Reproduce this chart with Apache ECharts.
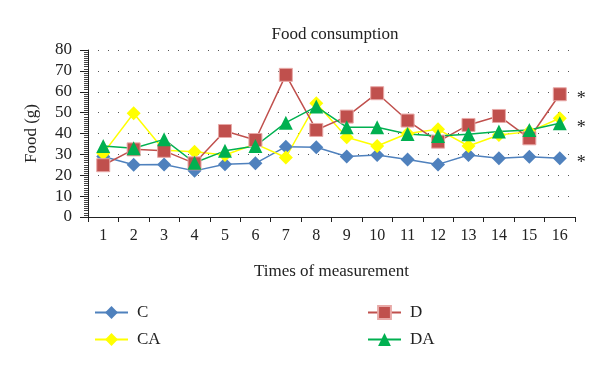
<!DOCTYPE html>
<html>
<head>
<meta charset="utf-8">
<script src="https://cdn.jsdelivr.net/npm/echarts@6/dist/echarts.min.js"></script>
<style>
  html, body { margin: 0; padding: 0; background: #fff; }
  #chart { width: 600px; height: 370px; }
</style>
</head>
<body>
<div id="chart"></div>
<script>
// 测量次数
const times = ['1', '2', '3', '4', '5', '6', '7', '8', '9', '10', '11', '12', '13', '14', '15', '16']
// 各组进食量 (g)
const cData = [29, 25, 25.2, 22.1, 25.3, 25.7, 33.7, 33.4, 29, 29.7, 27.6, 25.2, 29.7, 28.1, 28.9, 28.1]
const caData = [30.5, 49.7, 32, 31.3, 29.7, 35, 28.5, 54.5, 38.2, 34, 40, 42, 34, 39.3, 40.9, 47.3]
const dData = [24.8, 32.4, 31.7, 25.7, 41.2, 36.9, 68.1, 41.7, 48.1, 59.3, 46.2, 36.1, 44.1, 48.4, 37.7, 58.8]
const daData = [34, 32.9, 37.2, 26, 31.7, 34, 45.2, 52.9, 43, 43, 39.8, 38.8, 39.6, 40.9, 41.7, 44.9]
// 最后一个点标注显著性的组
const starred = ['C', 'D', 'DA']

const font = 'Liberation Serif'
const chart = echarts.init(document.getElementById('chart'))

const makeSeries = (name, data, color, symbol, size, border) => ({
  name,
  type: 'line',
  data: data.map((v, i) => {
    if (i === data.length - 1 && starred.includes(name)) {
      return {
        value: v,
        label: {
          show: true,
          position: 'right',
          distance: 10,
          offset: [0, 5],
          formatter: '*',
          fontFamily: font,
          fontSize: 18,
          color: '#222'
        }
      }
    }
    return v
  }),
  symbol,
  symbolSize: size,
  showAllSymbol: true,
  lineStyle: { color, width: 1.5 },
  itemStyle: { color, borderColor: border || color, borderWidth: border ? 1 : 0 },
  emphasis: { disabled: true },
  animation: false
})

const legendBase = {
  orient: 'vertical',
  top: 299,
  itemWidth: 33,
  itemHeight: 16,
  itemGap: 10,
  textStyle: { fontFamily: font, fontSize: 17, color: '#222', padding: [0, 0, 0, 4] }
}

const option = {
  title: {
    text: 'Food consumption',
    left: 330,
    textAlign: 'center',
    top: 21,
    textStyle: { fontFamily: font, fontSize: 17, fontWeight: 'normal', color: '#222' }
  },
  legend: [
    { ...legendBase, data: ['C', 'CA'], left: 89 },
    { ...legendBase, data: ['D', 'DA'], left: 362 }
  ],
  grid: { left: 88, right: 25, top: 50, bottom: 153 },
  xAxis: {
    type: 'category',
    data: times,
    boundaryGap: true,
    name: 'Times of measurement',
    nameLocation: 'middle',
    nameGap: 46,
    nameTextStyle: { fontFamily: font, fontSize: 17, color: '#222' },
    axisLine: { lineStyle: { color: '#222', width: 1 } },
    axisTick: { show: true, length: 5, lineStyle: { color: '#222' } },
    axisLabel: { fontFamily: font, fontSize: 16, color: '#222', margin: 11 }
  },
  yAxis: {
    type: 'value',
    min: 0,
    max: 80,
    interval: 10,
    name: 'Food (g)',
    nameLocation: 'middle',
    nameGap: 48,
    nameTextStyle: { fontFamily: font, fontSize: 17, color: '#222' },
    axisLine: { show: true, lineStyle: { color: '#222', width: 1 } },
    axisTick: { show: true, length: 8, lineStyle: { color: '#222' } },
    minorTick: { show: true, splitNumber: 10, length: 4, lineStyle: { color: '#444' } },
    axisLabel: { fontFamily: font, fontSize: 17, color: '#222', margin: 16 },
    splitLine: { show: true, lineStyle: { color: '#555', type: [1, 9], width: 1 } }
  },
  series: [
    makeSeries('C', cData, '#4f81bd', 'diamond', 14),
    makeSeries('CA', caData, '#ffff00', 'diamond', 14),
    makeSeries('D', dData, '#c0504d', 'rect', 13, '#e8a9a7'),
    makeSeries('DA', daData, '#00b050', 'triangle', 14)
  ]
}

chart.setOption(option)
</script>
</body>
</html>
